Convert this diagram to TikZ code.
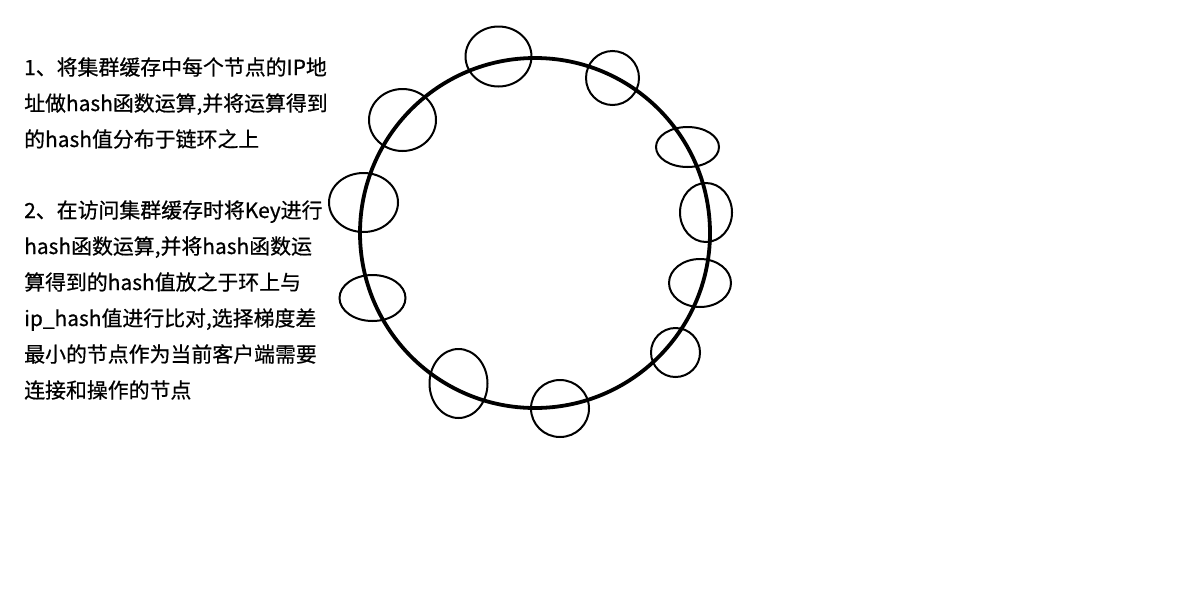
\documentclass[tikz,border=0pt]{standalone}
\usepackage{fontspec}
\newfontfamily\cjk[FakeBold=0.6]{Noto Sans CJK SC}
\begin{document}
\begin{tikzpicture}[x=1pt,y=-1pt,
  ring/.style={line width=3.8pt},
  node ell/.style={line width=2pt},
  txt/.style={anchor=base west,inner sep=0pt,font={\cjk\fontsize{20.9}{24}\selectfont}}]
\useasboundingbox[fill=white] (0,0) rectangle (1193,603);
\draw[ring] (535,233) circle[radius=175];
\foreach \cx/\cy/\rx/\ry in {498.5/56.5/33/30, 612.5/78/26.5/27, 687.5/147/31.5/20,
  706/212.5/26/29.5, 700/283/31/24, 675.5/352.5/24.5/24.5, 560/408.5/29/28.5,
  458.5/383.5/29/34.5, 372.5/298/33/23, 363.5/202.5/34.5/29.5, 402.5/120/33.5/31}
  \draw[node ell] (\cx,\cy) ellipse[x radius=\rx, y radius=\ry];
\node[txt] (l1) at (24,75) {1、将集群缓存中每个节点的IP地};
\node[txt] (l2) at (24,111) {址做hash函数运算,并将运算得到};
\node[txt] (l3) at (24,147) {的hash值分布于链环之上};
\node[txt] (l4) at (24,218) {2、在访问集群缓存时将Key进行};
\node[txt] (l5) at (24,254) {hash函数运算,并将hash函数运};
\node[txt] (l6) at (24,290) {算得到的hash值放之于环上与};
\node[txt] (l7) at (24,326) {ip\_hash值进行比对,选择梯度差};
\node[txt] (l8) at (24,362) {最小的节点作为当前客户端需要};
\node[txt] (l9) at (24,398) {连接和操作的节点};
\end{tikzpicture}
\end{document}
